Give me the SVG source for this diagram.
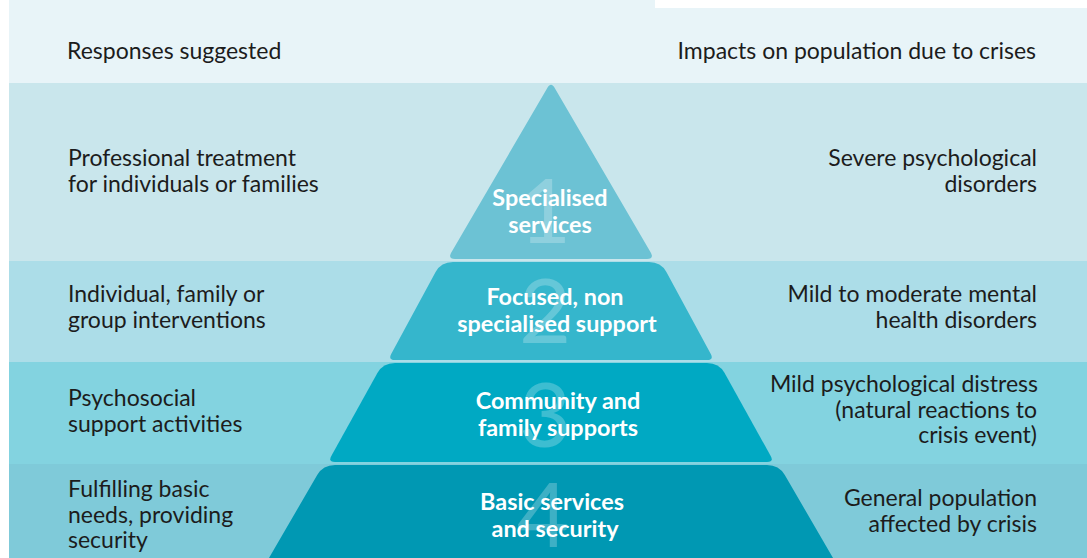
<svg xmlns="http://www.w3.org/2000/svg" width="1087" height="558" viewBox="0 0 1087 558">
  <style>
    .side { font-family: Lato, "Noto Sans", sans-serif; font-size: 23px; fill: #1c1c1c; }
    .right { text-anchor: end; }
    .lbl { font-family: Lato, "Noto Sans", sans-serif; font-size: 23.4px; font-weight: 700; fill: #ffffff; text-anchor: middle; }
    .num { font-family: Lato, "Noto Sans", sans-serif; font-size: 90px; font-weight: 400; fill: #ffffff; fill-opacity: 0.24; text-anchor: middle; }
  </style>

  <!-- background bands -->
  <g id="bands">
    <rect x="0" y="0" width="1087" height="558" fill="#ffffff"/>
    <rect x="9" y="0" width="1078" height="83" fill="#e8f4f8"/>
    <rect x="655" y="0" width="432" height="8" fill="#ffffff"/>
    <rect x="9" y="83" width="1078" height="178" fill="#c9e6ec"/>
    <rect x="9" y="261" width="1078" height="101" fill="#acdde8"/>
    <rect x="9" y="362" width="1078" height="102" fill="#83d3e0"/>
    <rect x="9" y="464" width="1078" height="94" fill="#7fcad9"/>
  </g>

  <g id="headers">
    <text class="side" x="67" y="59">Responses suggested</text>
    <text class="side right" x="1036" y="59">Impacts on population due to crises</text>
  </g>

  <!-- level 1 -->
  <g id="level1">
    <path d="M547,88.5 Q551,81 555,88.5 L651,253 Q654,259 647,259 L455,259 Q448,259 451,253 Z" fill="#6cc2d4"/>
    <text class="num" x="545" y="243">1</text>
    <text class="lbl" x="550" y="206">Specialised</text>
    <text class="lbl" x="550" y="233">services</text>
    <text class="side" x="68" y="166">Professional treatment</text>
    <text class="side" x="68" y="192">for individuals or families</text>
    <text class="side right" x="1037" y="166">Severe psychological</text>
    <text class="side right" x="1037" y="192">disorders</text>
  </g>

  <!-- level 2 -->
  <g id="level2">
    <path d="M453,262 L649,262 Q661,262 666.4,272 L710.8,354 Q714,360 707,360 L395,360 Q388,360 391.2,354 L435.6,272 Q441,262 453,262 Z" fill="#35b6cc"/>
    <text class="num" x="545" y="343">2</text>
    <text class="lbl" x="555" y="305">Focused, non</text>
    <text class="lbl" x="557" y="332">specialised support</text>
    <text class="side" x="68" y="302">Individual, family or</text>
    <text class="side" x="68" y="328">group interventions</text>
    <text class="side right" x="1037" y="302">Mild to moderate mental</text>
    <text class="side right" x="1037" y="328">health disorders</text>
  </g>

  <!-- level 3 -->
  <g id="level3">
    <path d="M395,363 L707,363 Q719,363 724.6,373 L770.7,456 Q774,462 767,462 L335,462 Q328,462 331.3,456 L377.4,373 Q383,363 395,363 Z" fill="#00a9c3"/>
    <text class="num" x="545" y="447">3</text>
    <text class="lbl" x="558" y="409">Community and</text>
    <text class="lbl" x="558" y="436">family supports</text>
    <text class="side" x="68" y="406">Psychosocial</text>
    <text class="side" x="68" y="432">support activities</text>
    <text class="side right" x="1038" y="392">Mild psychological distress</text>
    <text class="side right" x="1037" y="418">(natural reactions to</text>
    <text class="side right" x="1037" y="443">crisis event)</text>
  </g>

  <!-- level 4 -->
  <g id="level4">
    <path d="M335,465 L767,465 Q779,465 784.8,475 L840,570 L262,570 L317.2,475 Q323,465 335,465 Z" fill="#0098b3"/>
    <text class="num" x="543" y="547">4</text>
    <text class="lbl" x="552" y="510">Basic services</text>
    <text class="lbl" x="555" y="537">and security</text>
    <text class="side" x="68" y="497">Fulfilling basic</text>
    <text class="side" x="68" y="523">needs, providing</text>
    <text class="side" x="68" y="548">security</text>
    <text class="side right" x="1037" y="506">General population</text>
    <text class="side right" x="1037" y="532">affected by crisis</text>
  </g>

  <g id="connectors"></g>
</svg>
